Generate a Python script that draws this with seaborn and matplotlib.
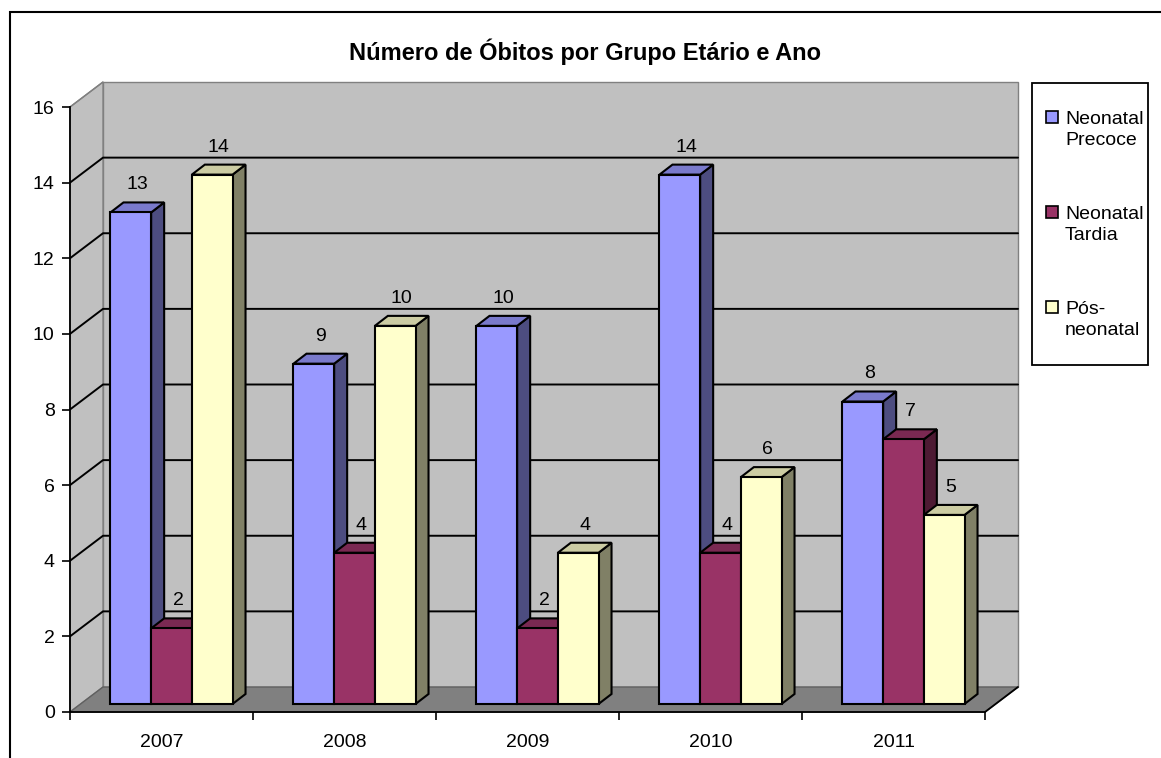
import numpy as np
import pandas as pd
import seaborn as sns
import matplotlib.pyplot as plt
from matplotlib.patches import Polygon, Rectangle

years = ['2007', '2008', '2009', '2010', '2011']
groups = ['Neonatal Precoce', 'Neonatal Tardia', 'Pós-neonatal']
precoce = [13, 9, 10, 14, 8]
tardia = [2, 4, 2, 4, 7]
pos_neonatal = [14, 10, 4, 6, 5]
legend_labels = ['Neonatal\nPrecoce', 'Neonatal\nTardia', 'Pós-\nneonatal']
y_ticks = [0, 2, 4, 6, 8, 10, 12, 14, 16]
title = 'Número de Óbitos por Grupo Etário e Ano'

front_colors = ['#9999FF', '#993366', '#FFFFCC']
side_colors = ['#4D4D80', '#4D1A33', '#808066']
top_colors = ['#7A7ACC', '#7A2952', '#CCCCA3']

df = pd.DataFrame({
    'year': years * 3,
    'group': np.repeat(groups, len(years)),
    'value': precoce + tardia + pos_neonatal,
})

sns.set_theme(style='white')
plt.rcParams['font.family'] = ['Liberation Sans', 'DejaVu Sans']
plt.rcParams['text.color'] = 'black'
plt.rcParams['xtick.color'] = 'black'
plt.rcParams['ytick.color'] = 'black'

W, H = 1161, 758
fig = plt.figure(figsize=(W / 100, H / 100), dpi=100)
# axes = front plane of the fake 3d box
ax = fig.add_axes([70 / W, (H - 712) / H, 915 / W, 605 / H])
ax.set_xlim(-0.5, 4.5)
ax.set_ylim(0, 16)
ax.patch.set_visible(False)

px_x = 5 / 915
px_y = 16 / 605
bx, by = 33 * px_x, 25 * px_y      # back wall depth
ox, oy = 10 * px_x, 8 * px_y       # bar front plane
dx, dy = 13 * px_x, 10 * px_y      # bar depth

wall = '#C0C0C0'
ax.add_patch(Rectangle((-0.5 + bx, by), 5, 16, fc=wall, ec='#808080',
                       lw=1, clip_on=False, zorder=0.1))
ax.add_patch(Polygon([(-0.5, 0), (-0.5 + bx, by), (-0.5 + bx, 16 + by),
                      (-0.5, 16)], closed=True, fc=wall, ec='#808080',
                     lw=1, clip_on=False, zorder=0.1))
ax.add_patch(Polygon([(-0.5, 0), (4.5, 0), (4.5 + bx, by), (-0.5 + bx, by)],
                     closed=True, fc='#808080', ec='#606060', lw=1,
                     clip_on=False, zorder=0.3))
for v in y_ticks[1:-1]:
    ax.plot([-0.5, -0.5 + bx, 4.5 + bx], [v, v + by, v + by],
            color='black', lw=1.4, clip_on=False, zorder=0.5)
ax.plot([-0.5, -0.5 + bx], [16, 16 + by], color='#808080', lw=1,
        clip_on=False, zorder=0.5)
ax.plot([4.5, 4.5 + bx], [0, by], color='black', lw=1.3,
        clip_on=False, zorder=0.5)

sns.barplot(data=df, x='year', y='value', hue='group', hue_order=groups,
            palette=front_colors, saturation=1, width=0.667,
            edgecolor='black', linewidth=1.5, errorbar=None, legend=False,
            ax=ax)

bars = []
for i, cont in enumerate(ax.containers):
    for p in cont.patches:
        bars.append((p.get_x(), i, p))
bars.sort(key=lambda b: b[0])
for k, (x0, i, p) in enumerate(bars):
    w, h = p.get_width(), p.get_height()
    z = 2 + k * 0.01
    xl = x0 + ox
    p.set_x(xl)
    p.set_y(oy)
    p.set_zorder(z + 0.005)
    p.set_clip_on(False)
    side = [(xl + w, oy), (xl + w + dx, oy + dy), (xl + w + dx, oy + h + dy),
            (xl + w, oy + h)]
    top = [(xl, oy + h), (xl + w, oy + h), (xl + w + dx, oy + h + dy),
           (xl + dx, oy + h + dy)]
    ax.add_patch(Polygon(side, closed=True, fc=side_colors[i], ec='black',
                         lw=1.5, clip_on=False, zorder=z))
    ax.add_patch(Polygon(top, closed=True, fc=top_colors[i], ec='black',
                         lw=1.5, clip_on=False, zorder=z))
    ax.annotate(f'{h:g}', xy=(xl + w / 2 + dx / 2, oy + h + dy),
                xytext=(0, 9), textcoords='offset pixels', ha='center',
                va='bottom', fontsize=14, zorder=5, annotation_clip=False)

for s in ['top', 'right']:
    ax.spines[s].set_visible(False)
for s in ['left', 'bottom']:
    ax.spines[s].set_color('black')
    ax.spines[s].set_linewidth(1.3)
ax.set_yticks(y_ticks)
ax.set_yticklabels([str(t) for t in y_ticks])
ax.set_xticks(np.arange(-0.5, 5, 1))
ax.set_xticklabels([''] * 6)
ax.set_xticks(range(len(years)), minor=True)
ax.set_xticklabels(years, minor=True)
ax.tick_params(axis='y', left=True, length=6, width=1.2, color='black',
               labelsize=14, pad=5, labelcolor='black')
ax.tick_params(axis='x', which='major', bottom=True, length=6, width=1.2,
               color='black')
ax.tick_params(axis='x', which='minor', bottom=True, length=0, pad=16,
               labelsize=14, labelcolor='black')
ax.set_xlabel('')
ax.set_ylabel('')

fig.text(585 / W, 1 - 52 / H, title, ha='center', va='center',
         fontsize=17, fontweight='bold')

# legend box, drawn by hand so the swatch sits on the first text line
fig.add_artist(Rectangle((1032 / W, 1 - 365 / H), 116 / W, 282 / H,
                         fill=False, ec='black', lw=1.3,
                         transform=fig.transFigure))
for k, (lab, col) in enumerate(zip(legend_labels, front_colors)):
    yc = 117 + 95 * k
    fig.add_artist(Rectangle((1046 / W, 1 - (yc + 6) / H), 12 / W, 12 / H,
                             fc=col, ec='black', lw=1.2,
                             transform=fig.transFigure))
    fig.text(1065 / W, 1 - (yc + 13) / H, lab, ha='left', va='center',
             fontsize=14, linespacing=1.34)

fig.add_artist(Rectangle((10 / W, -0.1), 1.2, 1.1 - 12 / H, fill=False,
                         ec='black', lw=1.5, transform=fig.transFigure))

fig.savefig('out.png', dpi=100)
